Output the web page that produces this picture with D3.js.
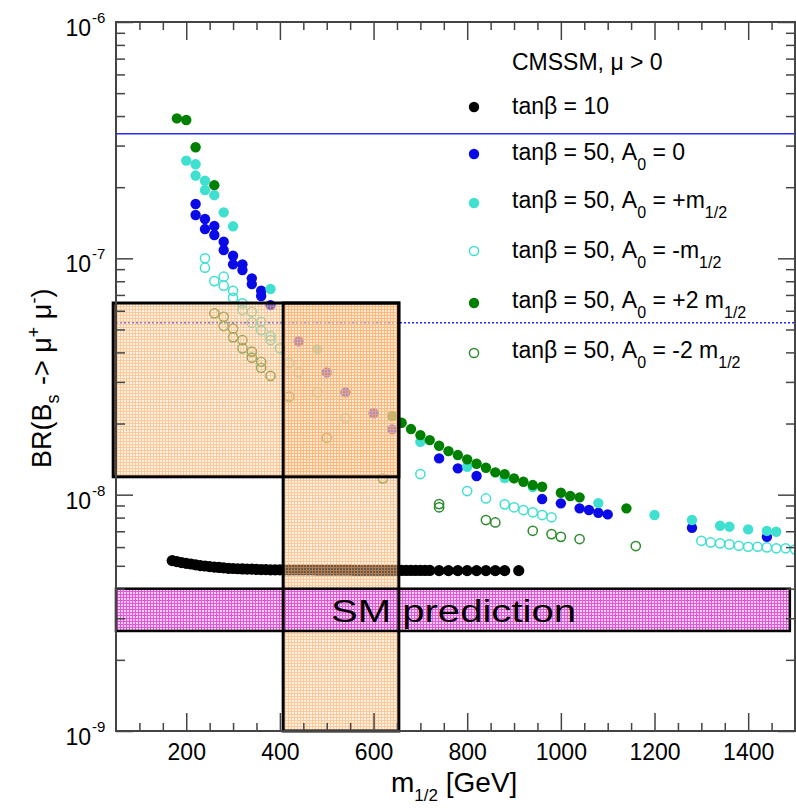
<!DOCTYPE html>
<html>
<head>
<meta charset="utf-8">
<script src="https://cdn.jsdelivr.net/npm/d3@7"></script>
<style>
  body { margin: 0; background: #fff; }
  svg { display: block; }
</style>
</head>
<body>
<div id="chart"></div>
<script>
// BR values are in units of 1e-8
const xMajorTicks = [200, 400, 600, 800, 1000, 1200, 1400];
const yDecades = [0.1, 1, 10, 100];
const yExponents = ["-9", "-8", "-7", "-6"];

// tan beta = 10 (black)
const tb10M = [170, 180, 190, 200, 210, 220, 230, 240, 250, 260, 270, 280, 290, 300, 310, 320, 330, 340, 350, 360,
  370, 380, 390, 400, 410, 420, 430, 440, 450, 460, 470, 480, 490, 500, 510, 520, 530, 540, 550, 560, 570, 580,
  590, 600, 610, 620, 630, 640, 650, 660, 670, 680, 690, 700, 710, 720, 740, 760, 780, 800, 820, 840, 860, 880, 910];
const tb10Br = [0.526, 0.521, 0.516, 0.512, 0.509, 0.505, 0.501, 0.499, 0.496, 0.494, 0.492, 0.490, 0.488, 0.487,
  0.486, 0.485, 0.484, 0.484, 0.483, 0.482, 0.482, 0.481, 0.481, 0.481, 0.480, 0.480, 0.480, 0.480, 0.480, 0.480,
  0.480, 0.479, 0.479, 0.479, 0.479, 0.479, 0.479, 0.479, 0.479, 0.478, 0.478, 0.478, 0.478, 0.478, 0.478, 0.478,
  0.478, 0.478, 0.478, 0.478, 0.478, 0.478, 0.478, 0.478, 0.478, 0.478, 0.477, 0.477, 0.477, 0.477, 0.477, 0.477,
  0.477, 0.477, 0.477];

// tan beta = 50, A0 = 0 (blue)
const a0M = [220, 220, 240, 240, 260, 260, 280, 280, 300, 300, 320, 320, 340, 340, 360, 360, 380, 440, 500, 540,
  600, 640, 740, 780, 820, 960, 1000, 1040, 1060, 1080, 1100, 1280, 1440];
const a0Br = [16.97, 15.25, 14.67, 13.30, 13.70, 12.55, 11.76, 10.84, 10.26, 9.43, 9.43, 8.92, 8.23, 7.78, 7.29,
  6.93, 6.34, 4.45, 3.29, 2.71, 2.21, 1.89, 1.424, 1.292, 1.199, 0.958, 0.919, 0.875, 0.861, 0.838, 0.825, 0.724, 0.663];

// tan beta = 50, A0 = +m1/2 (turquoise, filled)
const apM = [200, 220, 220, 240, 240, 260, 280, 300, 380, 480, 700, 800, 880, 940, 1080, 1200, 1280, 1340, 1360,
  1400, 1440, 1460];
const apBr = [25.9, 25.0, 22.4, 21.3, 19.45, 18.5, 15.65, 13.66, 7.42, 4.13, 1.675, 1.313, 1.176, 1.077, 0.921,
  0.820, 0.781, 0.739, 0.732, 0.713, 0.703, 0.697];

// tan beta = 50, A0 = -m1/2 (turquoise, open)
const amM = [240, 240, 260, 280, 280, 300, 300, 320, 320, 340, 340, 360, 360, 380, 380, 400, 420, 440, 480, 540,
  700, 800, 840, 880, 900, 920, 940, 960, 980, 1300, 1320, 1340, 1360, 1380, 1400, 1420, 1440, 1460, 1480, 1500];
const amBr = [10.0, 9.13, 8.01, 8.36, 7.66, 7.29, 6.81, 6.45, 6.04, 5.94, 5.34, 5.39, 4.97, 4.69, 4.51, 4.16, 3.61,
  3.29, 2.71, 2.11, 1.222, 1.036, 0.964, 0.910, 0.884, 0.861, 0.842, 0.820, 0.802, 0.638, 0.628, 0.622, 0.616,
  0.608, 0.602, 0.602, 0.598, 0.593, 0.593, 0.587];

// tan beta = 50, A0 = +2 m1/2 (green, filled)
const a2pM = [180, 200, 220, 260, 640, 660, 680, 700, 720, 740, 760, 780, 800, 820, 840, 860, 880, 900, 920, 940,
  960, 1000, 1020, 1040, 1140];
const a2pBr = [39.1, 38.5, 29.5, 20.4, 2.15, 2.015, 1.895, 1.787, 1.702, 1.61, 1.529, 1.471, 1.411, 1.351, 1.300,
  1.243, 1.222, 1.172, 1.134, 1.098, 1.080, 1.019, 0.987, 0.974, 0.875];

// tan beta = 50, A0 = -2 m1/2 (green, open)
const a2mM = [260, 280, 280, 300, 300, 320, 320, 340, 340, 360, 360, 380, 420, 500, 620, 740, 740, 840, 860, 940,
  980, 1000, 1040, 1160];
const a2mBr = [5.85, 5.66, 5.17, 5.04, 4.63, 4.51, 4.16, 4.03, 3.80, 3.65, 3.44, 3.18, 2.60, 1.74, 1.172, 0.912,
  0.884, 0.781, 0.763, 0.703, 0.681, 0.663, 0.649, 0.606];

// horizontal reference lines
const limitSolid = 33.7;
const limitDotted = 5.34;

// shaded regions [m1/2 from, m1/2 to, BR low, BR high]
const boxWide = [44, 654, 1.19, 6.47];
const boxNarrow = [407, 654, 0.1, 6.47];
const smBand = [50, 1489, 0.265, 0.400];

const series = [
  { m: tb10M, br: tb10Br, color: "#000000", filled: true, r: 5.6 },
  { m: a0M, br: a0Br, color: "#0a0ae6", filled: true, r: 5.2 },
  { m: apM, br: apBr, color: "#40e0d0", filled: true, r: 5.2 },
  { m: amM, br: amBr, color: "#40e0d0", filled: false, r: 4.6 },
  { m: a2mM, br: a2mBr, color: "#2e8b2e", filled: false, r: 4.6 },
  { m: a2pM, br: a2pBr, color: "#008000", filled: true, r: 5.2 }
];

const legendRows = [
  { parts: [["tanβ = 10", 0]], color: "#000000", filled: true },
  { parts: [["tanβ = 50, A", 0], ["0", 1], [" = 0", 0]], color: "#0a0ae6", filled: true },
  { parts: [["tanβ = 50, A", 0], ["0", 1], [" = +m", 0], ["1/2", 1]], color: "#40e0d0", filled: true },
  { parts: [["tanβ = 50, A", 0], ["0", 1], [" = -m", 0], ["1/2", 1]], color: "#40e0d0", filled: false },
  { parts: [["tanβ = 50, A", 0], ["0", 1], [" = +2 m", 0], ["1/2", 1]], color: "#008000", filled: true },
  { parts: [["tanβ = 50, A", 0], ["0", 1], [" = -2 m", 0], ["1/2", 1]], color: "#2e8b2e", filled: false }
];

const width = 796;
const height = 808;
const plotLeft = 116, plotRight = 795, plotTop = 22, plotBottom = 731;
const font = "'Liberation Sans', Arial, sans-serif";

const svg = d3.select("#chart")
  .append("svg")
  .attr("width", width)
  .attr("height", height)
  .style("background-color", "#ffffff")
  .style("font-family", font);

const x = d3.scaleLinear().domain([50, 1500]).range([plotLeft, plotRight]);
const y = d3.scaleLog().domain([0.1, 100]).range([plotBottom, plotTop]);

// patterns for shaded regions (see-through grid)
const defs = svg.append("defs");
function addPattern(id, bg, bgOpacity, line, lineOpacity) {
  const p = defs.append("pattern")
    .attr("id", id)
    .attr("patternUnits", "userSpaceOnUse")
    .attr("width", 3)
    .attr("height", 3);
  p.append("rect").attr("width", 3).attr("height", 3).attr("fill", bg).attr("fill-opacity", bgOpacity);
  p.append("rect").attr("width", 3).attr("height", 1).attr("fill", line).attr("fill-opacity", lineOpacity);
  p.append("rect").attr("y", 1).attr("width", 1).attr("height", 2).attr("fill", line).attr("fill-opacity", lineOpacity);
}
addPattern("orangeFill", "#ffdcb8", 0.4, "#ffa050", 0.5);
addPattern("pinkFill", "#f6c8f0", 0.85, "#e040d8", 0.85);

// reference lines
svg.append("line")
  .attr("x1", plotLeft).attr("x2", plotRight)
  .attr("y1", y(limitSolid)).attr("y2", y(limitSolid))
  .attr("stroke", "#2a2aff").attr("stroke-width", 1.5);

svg.append("line")
  .attr("x1", plotLeft).attr("x2", plotRight)
  .attr("y1", y(limitDotted)).attr("y2", y(limitDotted))
  .attr("stroke", "#2a2aff").attr("stroke-width", 1.5)
  .attr("stroke-dasharray", "2,2");

// points
series.forEach(s => {
  svg.append("g")
    .selectAll("circle")
    .data(d3.zip(s.m, s.br))
    .enter()
    .append("circle")
    .attr("cx", d => x(d[0]))
    .attr("cy", d => y(d[1]))
    .attr("r", s.r)
    .attr("fill", s.filled ? s.color : "none")
    .attr("stroke", s.color)
    .attr("stroke-width", s.filled ? 0 : 1.5);
});

// shaded regions
function boxRect(b) {
  return { x: x(b[0]), y: y(b[3]), w: x(b[1]) - x(b[0]), h: y(b[2]) - y(b[3]) };
}
[boxWide, boxNarrow].forEach(b => {
  const rr = boxRect(b);
  svg.append("rect")
    .attr("x", rr.x).attr("y", rr.y).attr("width", rr.w).attr("height", rr.h)
    .attr("fill", "url(#orangeFill)");
});
const sm = boxRect(smBand);
svg.append("rect")
  .attr("x", sm.x).attr("y", sm.y).attr("width", sm.w).attr("height", sm.h)
  .attr("fill", "url(#pinkFill)");

svg.append("rect")
  .attr("x", sm.x).attr("y", sm.y).attr("width", sm.w).attr("height", sm.h)
  .attr("fill", "none").attr("stroke", "#000").attr("stroke-width", 2.5);

[boxWide, boxNarrow].forEach(b => {
  const rr = boxRect(b);
  svg.append("rect")
    .attr("x", rr.x).attr("y", rr.y).attr("width", rr.w).attr("height", rr.h)
    .attr("fill", "none").attr("stroke", "#000").attr("stroke-width", 3);
});

svg.append("text")
  .attr("x", 331)
  .attr("y", 622)
  .attr("textLength", 245)
  .attr("lengthAdjust", "spacingAndGlyphs")
  .style("font-size", "31px")
  .style("fill", "#000")
  .text("SM prediction");

// axes (ticks on all four sides, pointing inward)
const axisColor = "#444";
const xMinorTicks = d3.range(100, 1500, 50).filter(v => v % 200 !== 0);
const yMinorTicks = y.ticks().filter(v => !yDecades.includes(v));

function styleAxis(g) {
  g.select(".domain").remove();
  g.selectAll(".tick line").attr("stroke", axisColor).attr("stroke-width", 1.5);
}

svg.append("g").attr("transform", `translate(0,${plotBottom})`)
  .call(d3.axisBottom(x).tickValues(xMinorTicks).tickSize(-8).tickFormat(""))
  .call(styleAxis);
svg.append("g").attr("transform", `translate(0,${plotBottom})`)
  .call(d3.axisBottom(x).tickValues(xMajorTicks).tickSize(-18).tickPadding(13).tickFormat(d3.format("d")))
  .call(styleAxis)
  .call(g => g.selectAll("text").style("font-size", "23px").style("font-family", font).attr("fill", "#000"));
svg.append("g").attr("transform", `translate(0,${plotTop})`)
  .call(d3.axisTop(x).tickValues(xMinorTicks).tickSize(-8).tickFormat(""))
  .call(styleAxis);
svg.append("g").attr("transform", `translate(0,${plotTop})`)
  .call(d3.axisTop(x).tickValues(xMajorTicks).tickSize(-18).tickFormat(""))
  .call(styleAxis);

svg.append("g").attr("transform", `translate(${plotLeft},0)`)
  .call(d3.axisLeft(y).tickValues(yMinorTicks).tickSize(-9).tickFormat(""))
  .call(styleAxis);
svg.append("g").attr("transform", `translate(${plotLeft},0)`)
  .call(d3.axisLeft(y).tickValues(yDecades).tickSize(-17).tickFormat(""))
  .call(styleAxis);
svg.append("g").attr("transform", `translate(${plotRight},0)`)
  .call(d3.axisRight(y).tickValues(yMinorTicks).tickSize(-9).tickFormat(""))
  .call(styleAxis);
svg.append("g").attr("transform", `translate(${plotRight},0)`)
  .call(d3.axisRight(y).tickValues(yDecades).tickSize(-17).tickFormat(""))
  .call(styleAxis);

// frame
svg.append("rect")
  .attr("x", plotLeft).attr("y", plotTop)
  .attr("width", plotRight - plotLeft).attr("height", plotBottom - plotTop)
  .attr("fill", "none").attr("stroke", axisColor).attr("stroke-width", 2);

// y tick labels 10^n
yDecades.forEach((v, i) => {
  svg.append("text")
    .attr("x", 91).attr("y", y(v) + 14)
    .attr("text-anchor", "end")
    .style("font-size", "23px")
    .text("10");
  svg.append("text")
    .attr("x", 92).attr("y", y(v) + 1)
    .style("font-size", "15px")
    .text(yExponents[i]);
});

// axis titles
const xt = svg.append("text")
  .attr("x", 391).attr("y", 792)
  .style("font-size", "28px");
xt.append("tspan").text("m");
xt.append("tspan").attr("dy", 9).style("font-size", "17px").text("1/2");
xt.append("tspan").attr("dy", -9).text(" [GeV]");

const yt = svg.append("text")
  .attr("transform", "translate(51,468) rotate(-90)")
  .style("font-size", "27px");
yt.append("tspan").text("BR(B");
yt.append("tspan").attr("dy", 8).style("font-size", "18px").text("s");
yt.append("tspan").attr("dy", -8).attr("dx", 2).text(" -> μ");
yt.append("tspan").attr("dy", -11).style("font-size", "18px").text("+");
yt.append("tspan").attr("dy", 11).text(" μ");
yt.append("tspan").attr("dy", -11).style("font-size", "18px").text("-");
yt.append("tspan").attr("dy", 11).text(")");

// legend
svg.append("text")
  .attr("x", 512).attr("y", 70)
  .style("font-size", "23px")
  .text("CMSSM, μ > 0");

const legendMarkerY = [107, 154, 203, 251, 303, 353];
const legendTextY = [114, 160, 208, 258, 308, 358];
legendRows.forEach((row, i) => {
  svg.append("circle")
    .attr("cx", 474).attr("cy", legendMarkerY[i])
    .attr("r", row.filled ? 5.2 : 4.6)
    .attr("fill", row.filled ? row.color : "none")
    .attr("stroke", row.color)
    .attr("stroke-width", row.filled ? 0 : 1.5);
  const t = svg.append("text")
    .attr("x", 512).attr("y", legendTextY[i])
    .style("font-size", "23px");
  let sub = false;
  row.parts.forEach(p => {
    const isSub = p[1] === 1;
    const ts = t.append("tspan").text(p[0]);
    if (isSub && !sub) ts.attr("dy", 10).style("font-size", "16px");
    if (!isSub && sub) ts.attr("dy", -10);
    sub = isSub;
  });
});
</script>
</body>
</html>
